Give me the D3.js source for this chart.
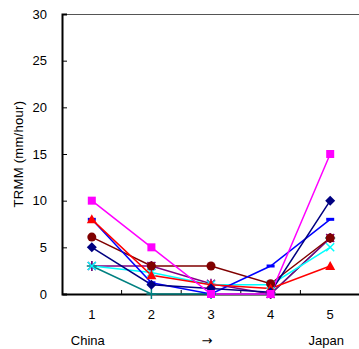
<!DOCTYPE html>
<html>
<head>
<meta charset="utf-8">
<script src="https://cdn.jsdelivr.net/npm/d3@7"></script>
<style>
  body { margin: 0; background: #fff; }
  svg { display: block; }
  text { font-family: "Liberation Sans", Arial, sans-serif; fill: #000; }
</style>
</head>
<body>
<div id="chart"></div>
<script>
const categories = [1, 2, 3, 4, 5];
const yTicks = [0, 5, 10, 15, 20, 25, 30];
const regionLabels = [{ at: 1, text: 'China' }, { at: 3, text: '\u2192' }, { at: 5, text: 'Japan' }];

const teal    = [3, 0, 0, 0, 6];
const purple  = [3, 3, 1.1, 0, 6];
const cyan    = [3, 2.3, 1, 1, 5];
const darkred = [6.1, 3, 3, 1.1, 6];
const red     = [8, 2, 1, 0.6, 3];
const blue    = [8, 1.2, 0, 3, 8];
const navy    = [5, 1, 0.6, 0.2, 10];
const magenta = [10, 5, 0, 0, 15];

const series = [
  { values: teal, color: '#008080', marker: 'plus' },
  { values: purple, color: '#800080', marker: 'star' },
  { values: cyan, color: '#00FFFF', marker: 'x' },
  { values: darkred, color: '#800000', marker: 'circle' },
  { values: blue, color: '#0000FF', marker: 'dash' },
  { values: red, color: '#FF0000', marker: 'triangle' },
  { values: navy, color: '#000080', marker: 'diamond' },
  { values: magenta, color: '#FF00FF', marker: 'square' }
];

const width = 359, height = 349;
const margin = { top: 14, right: -1, bottom: 55, left: 62 };
const plotW = width - margin.left - margin.right;
const plotH = height - margin.top - margin.bottom;

const svg = d3.select('#chart').append('svg')
  .attr('width', width)
  .attr('height', height);

const g = svg.append('g')
  .attr('transform', 'translate(' + margin.left + ',' + margin.top + ')');

const xScale = d3.scaleBand()
  .domain(categories)
  .range([0, plotW]);

const yScale = d3.scaleLinear()
  .domain([0, 30])
  .range([plotH, 0]);

const cx = (d) => xScale(d) + xScale.bandwidth() / 2;

// plot border (top, grey)
g.append('line')
  .attr('x1', 0).attr('x2', plotW)
  .attr('y1', 0.5).attr('y2', 0.5)
  .attr('stroke', '#555').attr('stroke-width', 1.2);

// y axis
const yAxis = g.append('g')
  .call(d3.axisLeft(yScale).tickValues(yTicks).tickSize(-5).tickPadding(15));
yAxis.select('.domain').attr('stroke', '#000').attr('stroke-width', 2);
yAxis.selectAll('.tick line').attr('stroke', '#000');
yAxis.selectAll('text').style('font-size', '13px');

// x axis
const xAxis = g.append('g')
  .attr('transform', 'translate(0,' + plotH + ')')
  .call(d3.axisBottom(xScale).tickSize(0).tickPadding(16));
xAxis.select('.domain').attr('stroke', '#000').attr('stroke-width', 2);
xAxis.selectAll('text').style('font-size', '13px');

// category boundary ticks
g.selectAll('.xtick')
  .data(categories.slice(1))
  .enter().append('line')
  .attr('class', 'xtick')
  .attr('x1', (d) => xScale(d)).attr('x2', (d) => xScale(d))
  .attr('y1', plotH).attr('y2', plotH - 4)
  .attr('stroke', '#000');

// second row labels
g.selectAll('.region')
  .data(regionLabels)
  .enter().append('text')
  .attr('class', 'region')
  .attr('x', (d) => cx(d.at) - 4)
  .attr('y', plotH + 51)
  .attr('text-anchor', 'middle')
  .style('font-size', '13px')
  .style('font-family', (d) => d.text === '\u2192' ? '"DejaVu Sans", sans-serif' : null)
  .text((d) => d.text);

// y label
svg.append('text')
  .attr('transform', 'translate(23,' + (margin.top + plotH / 2) + ') rotate(-90)')
  .attr('text-anchor', 'middle')
  .style('font-size', '13px')
  .style('letter-spacing', '0.3px')
  .text('TRMM (mm/hour)');

const line = d3.line()
  .x((d, i) => cx(categories[i]))
  .y((d) => yScale(d));

function drawMarker(sel, type, color) {
  const s = 4;
  if (type === 'square') {
    sel.append('rect').attr('x', -s).attr('y', -s).attr('width', 2 * s).attr('height', 2 * s).attr('fill', color);
  } else if (type === 'diamond') {
    sel.append('path').attr('d', `M0,${-s - 1}L${s + 1},0L0,${s + 1}L${-s - 1},0Z`).attr('fill', color);
  } else if (type === 'triangle') {
    sel.append('path').attr('d', `M0,${-s - 1}L${s + 1},${s}L${-s - 1},${s}Z`).attr('fill', color);
  } else if (type === 'circle') {
    sel.append('circle').attr('r', s + 0.5).attr('fill', color);
  } else if (type === 'dash') {
    sel.append('rect').attr('x', -4).attr('y', -1.5).attr('width', 8).attr('height', 3).attr('fill', color);
  } else if (type === 'x') {
    sel.append('path').attr('d', `M${-s},${-s}L${s},${s}M${-s},${s}L${s},${-s}`).attr('stroke', color).attr('stroke-width', 1.5);
  } else if (type === 'plus') {
    sel.append('path').attr('d', `M${-s - 1},0L${s + 1},0M0,${-s - 1}L0,${s + 1}`).attr('stroke', color).attr('stroke-width', 1.5);
  } else if (type === 'star') {
    sel.append('path').attr('d', `M${-s},${-s}L${s},${s}M${-s},${s}L${s},${-s}M0,${-s - 1}L0,${s + 1}`).attr('stroke', color).attr('stroke-width', 1.5);
  }
}

series.forEach((sr) => {
  g.append('path')
    .datum(sr.values)
    .attr('d', line)
    .attr('fill', 'none')
    .attr('stroke', sr.color)
    .attr('stroke-width', 1.5);
});

series.forEach((sr) => {
  g.selectAll(null)
    .data(sr.values)
    .enter().append('g')
    .attr('transform', (d, i) => 'translate(' + cx(categories[i]) + ',' + yScale(d) + ')')
    .each(function () { drawMarker(d3.select(this), sr.marker, sr.color); });
});
</script>
</body>
</html>
